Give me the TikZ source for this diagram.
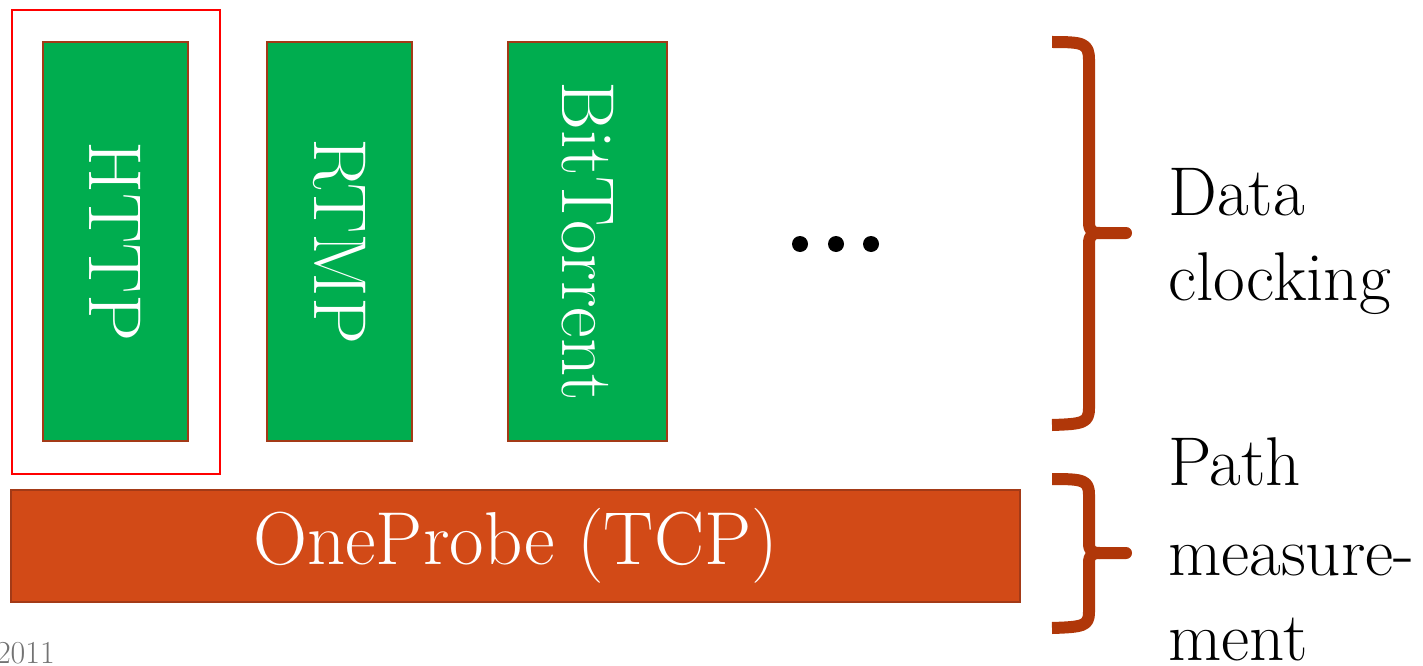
\documentclass[tikz,border=0pt]{standalone}
\begin{document}
\begin{tikzpicture}[x=1pt,y=-1pt,
  proto/.style={draw=edgebrown,line width=2.2pt,fill=protogreen,text=white,inner sep=0pt},
  base/.style={draw=edgebrown,line width=2.2pt,fill=probeorange,text=white,inner sep=0pt},
  bigtext/.style={font=\fontsize{75}{80}\selectfont},
  sidetext/.style={font=\fontsize{69}{75}\selectfont,anchor=base west,inner sep=0pt},
  brace/.style={draw=bracered,line width=12pt,line join=round}]
\definecolor{protogreen}{HTML}{00AD4F}
\definecolor{edgebrown}{HTML}{A33A17}
\definecolor{probeorange}{HTML}{D24A17}
\definecolor{bracered}{HTML}{B03709}
\useasboundingbox (0,0) rectangle (1423,666);

% selection frame around HTTP
\draw[red,line width=2.2pt] (12,10) rectangle (220,474);

% application protocols
\node[proto,minimum width=145pt,minimum height=399pt] (http) at (115.5,241.5) {};
\node[proto,minimum width=145pt,minimum height=399pt] (rtmp) at (339.5,241.5) {};
\node[proto,minimum width=159pt,minimum height=399pt] (bt) at (587.5,241.5) {};
\node[bigtext,text=white,rotate=-90] (httpl) at (http.center) {HTTP};
\node[bigtext,text=white,rotate=-90] (rtmpl) at (rtmp.center) {RTMP};
\node[bigtext,text=white,rotate=-90] (btl) at (bt.center) {BitTorrent};

% ellipsis
\foreach \i/\xx in {1/800,2/836,3/871}
  \fill (\xx,244) circle (8pt);

% transport layer
\node[base,minimum width=1009pt,minimum height=112pt] (probe) at (515.5,546) {};
\node[bigtext,text=white] (probel) at (probe.center) {OneProbe (TCP)};

% braces
\draw[brace] (1052,42) .. controls (1083,42) and (1089,43) .. (1089,60)
  -- (1089,222) .. controls (1089,231) and (1092,233) .. (1100,233) -- (1126,233);
\draw[brace] (1100,233) .. controls (1092,233) and (1089,235) .. (1089,244)
  -- (1089,408) .. controls (1089,423) and (1083,424) .. (1052,425);
\fill[bracered] (1126,233) circle (6pt);

\draw[brace] (1052,479) .. controls (1083,479) and (1089,480) .. (1089,495)
  -- (1089,543) .. controls (1089,551) and (1092,553) .. (1100,553) -- (1126,553);
\draw[brace] (1100,553) .. controls (1092,553) and (1089,555) .. (1089,563)
  -- (1089,612) .. controls (1089,626) and (1083,627) .. (1052,628);
\fill[bracered] (1126,553) circle (6pt);

% layer labels
\node[sidetext] (d1) at (1168,215) {Data};
\node[sidetext] (d2) at (1168,300) {clocking};
\node[sidetext] (p1) at (1168,485) {Path};
\node[sidetext] (p2) at (1168,575) {measure-};
\node[sidetext] (p3) at (1168,660) {ment};

% year
\node[font=\fontsize{32}{36}\selectfont,text=black!55,anchor=base east,inner sep=0pt] (year) at (55,663) {2011};
\end{tikzpicture}
\end{document}
